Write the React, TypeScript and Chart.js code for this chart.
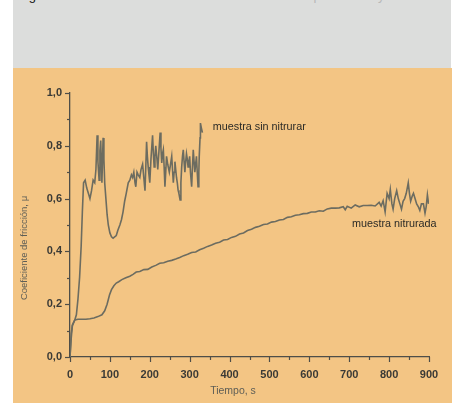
import React, { useEffect, useRef } from 'react';
import { Chart, registerables } from 'chart.js';

Chart.register(...registerables);

// ---- Data ----
const timeSinNitrurar = [
  0, 3, 6, 9, 12, 16, 20, 24, 28, 31, 34, 38, 42, 46, 50, 54, 58, 62, 65, 68, 70, 73, 75, 77, 80, 83, 85, 87,
  90, 93, 96, 100, 104, 108, 112, 116, 120, 125, 129, 133, 137, 141, 146, 150, 154, 157, 160, 163, 165, 168,
  171, 175, 178, 182, 185, 188, 190, 192, 194, 196, 198, 200, 203, 207, 209, 211, 213, 215, 218, 220, 223,
  226, 228, 230, 232, 234, 236, 238, 240, 242, 245, 249, 252, 255, 257, 259, 261, 263, 265, 267, 269, 271,
  273, 276, 278, 280, 282, 284, 286, 288, 290, 292, 294, 296, 298, 300, 302, 305, 307, 309, 311, 313, 315,
  317, 319, 321, 323, 324, 326, 327, 329, 332,
];
const coefSinNitrurar = [
  0.0, 0.07, 0.12, 0.13, 0.14, 0.16, 0.22, 0.3, 0.42, 0.55, 0.66, 0.67, 0.64, 0.62, 0.6, 0.63, 0.67, 0.66,
  0.71, 0.84, 0.74, 0.67, 0.78, 0.82, 0.66, 0.83, 0.75, 0.66, 0.6, 0.54, 0.5, 0.47, 0.455, 0.45, 0.455, 0.46,
  0.48, 0.5, 0.52, 0.55, 0.59, 0.62, 0.66, 0.67, 0.69, 0.68, 0.7, 0.66, 0.645, 0.7, 0.69, 0.68, 0.71, 0.73,
  0.68, 0.63, 0.72, 0.815, 0.76, 0.72, 0.69, 0.66, 0.75, 0.84, 0.77, 0.72, 0.76, 0.8, 0.75, 0.71, 0.78, 0.85,
  0.79, 0.735, 0.77, 0.785, 0.72, 0.645, 0.7, 0.76, 0.73, 0.7, 0.73, 0.76, 0.71, 0.66, 0.7, 0.74, 0.71, 0.68,
  0.66, 0.632, 0.62, 0.595, 0.66, 0.72, 0.76, 0.785, 0.74, 0.7, 0.74, 0.77, 0.75, 0.72, 0.74, 0.76, 0.7,
  0.645, 0.72, 0.785, 0.74, 0.7, 0.73, 0.76, 0.7, 0.645, 0.7, 0.76, 0.83, 0.886, 0.87, 0.85,
];
const timeNitrurada = [
  0, 3, 6, 9, 12, 20, 30, 40, 50, 60, 70, 80, 87, 93, 99, 104, 110, 116, 122, 130, 140, 150, 158, 166, 175,
  185, 195, 205, 215, 225, 235, 245, 255, 265, 275, 285, 295, 305, 315, 325, 335, 345, 355, 365, 375, 385,
  395, 405, 415, 425, 435, 445, 455, 465, 475, 485, 495, 505, 515, 525, 535, 545, 555, 565, 575, 585, 595,
  605, 615, 625, 635, 645, 655, 665, 675, 685, 690, 695, 705, 715, 725, 735, 745, 755, 765, 775, 780, 785,
  790, 795, 800, 803, 807, 810, 814, 819, 823, 827, 831, 835, 839, 843, 848, 851, 854, 858, 861, 865, 869,
  873, 877, 881, 886, 890, 893, 896, 899,
];
const coefNitrurada = [
  0.0, 0.09, 0.12, 0.13, 0.14, 0.143, 0.143, 0.143, 0.145, 0.148, 0.153, 0.16, 0.175, 0.2, 0.235, 0.255,
  0.27, 0.28, 0.285, 0.293, 0.3, 0.306, 0.313, 0.322, 0.324, 0.331, 0.332, 0.341, 0.347, 0.355, 0.357, 0.363,
  0.366, 0.371, 0.377, 0.384, 0.389, 0.396, 0.398, 0.406, 0.412, 0.419, 0.424, 0.431, 0.435, 0.443, 0.445,
  0.453, 0.457, 0.466, 0.47, 0.479, 0.484, 0.491, 0.495, 0.502, 0.504, 0.511, 0.513, 0.519, 0.521, 0.529,
  0.531, 0.537, 0.539, 0.543, 0.544, 0.549, 0.549, 0.554, 0.552, 0.561, 0.564, 0.564, 0.565, 0.569, 0.558,
  0.571, 0.564, 0.576, 0.569, 0.574, 0.574, 0.575, 0.572, 0.586, 0.572, 0.592, 0.55, 0.62, 0.6, 0.635, 0.58,
  0.56, 0.6, 0.63, 0.6, 0.58, 0.56, 0.59, 0.6, 0.62, 0.66, 0.62, 0.59, 0.61, 0.62, 0.6, 0.58, 0.57, 0.555,
  0.58, 0.58, 0.545, 0.57, 0.614, 0.58,
];
const seriesNames = ['muestra sin nitrurar', 'muestra nitrurada'];
const xTitle = 'Tiempo, s';
const yTitle = 'Coeficiente de fricción, μ';
const headingDark = 'Figura';
const headingRest = ' 4. Coeficiente de fricción en función del tiempo de ensayo';

const FONT = "'Liberation Sans', Arial, sans-serif";
const LINE = '#6c6c60';
const AXIS = '#4e4e48';

const decorations = {
  id: 'decorations',
  afterDraw(chart: any) {
    const { ctx, chartArea } = chart;
    const x = chart.scales.x;
    const y = chart.scales.y;
    ctx.save();
    ctx.strokeStyle = AXIS;
    ctx.lineWidth = 1.2;
    for (let v = 0; v <= 900; v += 50) {
      const px = Math.round(x.getPixelForValue(v)) + 0.5;
      const len = v % 100 === 0 ? 5 : 3;
      ctx.beginPath();
      ctx.moveTo(px, chartArea.bottom);
      ctx.lineTo(px, chartArea.bottom + len);
      ctx.stroke();
    }
    for (let i = 0; i <= 10; i++) {
      const py = Math.round(y.getPixelForValue(i / 10)) + 0.5;
      const len = i % 2 === 0 ? 5 : 3;
      ctx.beginPath();
      ctx.moveTo(chartArea.left, py);
      ctx.lineTo(chartArea.left - len, py);
      ctx.stroke();
    }
    ctx.fillStyle = '#5e5e56';
    ctx.font = `10.5px ${FONT}`;
    ctx.textAlign = 'center';
    ctx.textBaseline = 'middle';
    ctx.fillText(xTitle, chartArea.left + 163, chartArea.bottom + 34);
    ctx.save();
    ctx.translate(chartArea.left - 46, chartArea.top + 155);
    ctx.rotate(-Math.PI / 2);
    ctx.font = `9.5px ${FONT}`;
    ctx.fillText(yTitle, 0, 0);
    ctx.restore();
    ctx.fillStyle = '#2a2a26';
    ctx.font = `10.8px ${FONT}`;
    ctx.textAlign = 'left';
    ctx.fillText(seriesNames[0], x.getPixelForValue(358), y.getPixelForValue(0.87));
    ctx.fillText(seriesNames[1], x.getPixelForValue(707), y.getPixelForValue(0.504));
    ctx.restore();
  },
};

export default function App() {
  const ref = useRef<HTMLCanvasElement>(null);
  useEffect(() => {
    if (!ref.current) return;
    const chart = new Chart(ref.current, {
      type: 'line',
      data: {
        datasets: [
          {
            label: seriesNames[0],
            data: timeSinNitrurar.map((t, i) => ({ x: t, y: coefSinNitrurar[i] })),
            borderColor: LINE,
            borderWidth: 1.6,
            pointRadius: 0,
            tension: 0,
          },
          {
            label: seriesNames[1],
            data: timeNitrurada.map((t, i) => ({ x: t, y: coefNitrurada[i] })),
            borderColor: LINE,
            borderWidth: 1.6,
            pointRadius: 0,
            tension: 0,
          },
        ],
      },
      options: {
        animation: false,
        responsive: false,
        maintainAspectRatio: false,
        devicePixelRatio: 1,
        layout: { padding: { left: 0, right: 23, top: 25, bottom: 0 } },
        plugins: { legend: { display: false }, tooltip: { enabled: false } },
        scales: {
          x: {
            type: 'linear',
            min: 0,
            max: 900,
            grid: { display: false, drawTicks: false },
            border: { display: true, color: AXIS, width: 1.3 },
            ticks: {
              stepSize: 50,
              autoSkip: false,
              maxRotation: 0,
              padding: 11,
              color: '#3a3a36',
              font: { family: FONT, size: 11, weight: 'bold' },
              callback: (v: any) => (Math.round(v) % 100 === 0 ? String(Math.round(v)) : ''),
            },
            afterFit: (s: any) => {
              s.height = 46;
            },
          },
          y: {
            type: 'linear',
            min: 0,
            max: 1,
            grid: { display: false, drawTicks: false },
            border: { display: true, color: AXIS, width: 1.3 },
            ticks: {
              stepSize: 0.1,
              autoSkip: false,
              padding: 8,
              color: '#3a3a36',
              font: { family: FONT, size: 11, weight: 'bold' },
              callback: (v: any) => {
                const k = Math.round(v * 10);
                return k % 2 === 0 ? (k / 10).toFixed(1).replace('.', ',') : '';
              },
            },
            afterFit: (s: any) => {
              s.width = 57;
            },
          },
        },
      },
      plugins: [decorations],
    });
    return () => chart.destroy();
  }, []);

  return (
    <div
      style={{
        position: 'absolute',
        left: 0,
        top: 0,
        width: 455,
        height: 403,
        overflow: 'hidden',
        background: '#ffffff',
        fontFamily: FONT,
      }}
    >
      <div style={{ position: 'absolute', left: 13, top: 0, width: 438, height: 68, background: '#dcdddc' }} />
      <div
        style={{
          position: 'absolute',
          left: 18,
          top: -11,
          fontSize: 13,
          lineHeight: '13px',
          whiteSpace: 'nowrap',
          color: '#b8b8b8',
        }}
      >
        <span style={{ color: '#111' }}>{headingDark}</span>
        {headingRest}
      </div>
      <div style={{ position: 'absolute', left: 13, top: 68, width: 439, height: 335, background: '#f3c584' }}>
        <canvas ref={ref} width={439} height={335} style={{ display: 'block', width: 439, height: 335 }} />
      </div>
    </div>
  );
}
